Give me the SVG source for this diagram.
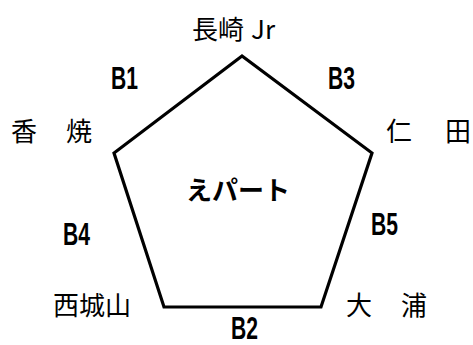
<svg xmlns="http://www.w3.org/2000/svg" width="473" height="345" viewBox="0 0 473 345">
<style>
.st{font-family:"Noto Sans CJK JP","Noto Sans",sans-serif;font-size:26px;fill:#000;}
.bl{font-family:"Liberation Sans",Arial,sans-serif;font-weight:bold;font-size:31px;fill:#000;}
.ctr{font-family:"Noto Sans CJK JP",sans-serif;font-weight:bold;font-size:26px;fill:#000;}
.edge{fill:none;stroke:#000;stroke-width:3.2;stroke-linejoin:miter;}
</style>
<rect width="473" height="345" fill="#fff"/>
<g id="connectors">
<polygon class="edge" points="242,56 114,153 164,307 321,307 372,153"/>
<text class="bl" x="111" y="89" textLength="27" lengthAdjust="spacingAndGlyphs">B1</text>
<text class="bl" x="328" y="89" textLength="27" lengthAdjust="spacingAndGlyphs">B3</text>
<text class="bl" x="63" y="245" textLength="27" lengthAdjust="spacingAndGlyphs">B4</text>
<text class="bl" x="371" y="235" textLength="27" lengthAdjust="spacingAndGlyphs">B5</text>
<text class="bl" x="231" y="339" font-size="29" textLength="27" lengthAdjust="spacingAndGlyphs">B2</text>
</g>
<g id="nagasaki"><text class="st" x="192" y="39">長崎 <tspan x="251">Jr</tspan></text></g>
<g id="koyagi"><text class="st" x="11 37 66" y="141">香　焼</text></g>
<g id="nita"><text class="st" x="386 412 445" y="141">仁　田</text></g>
<g id="nishishiroyama"><text class="st" x="53" y="315">西城山</text></g>
<g id="oura"><text class="st" x="346 372 401" y="315">大　浦</text></g>
<g id="center"><text class="ctr" x="186" y="200">えパート</text></g>
</svg>
